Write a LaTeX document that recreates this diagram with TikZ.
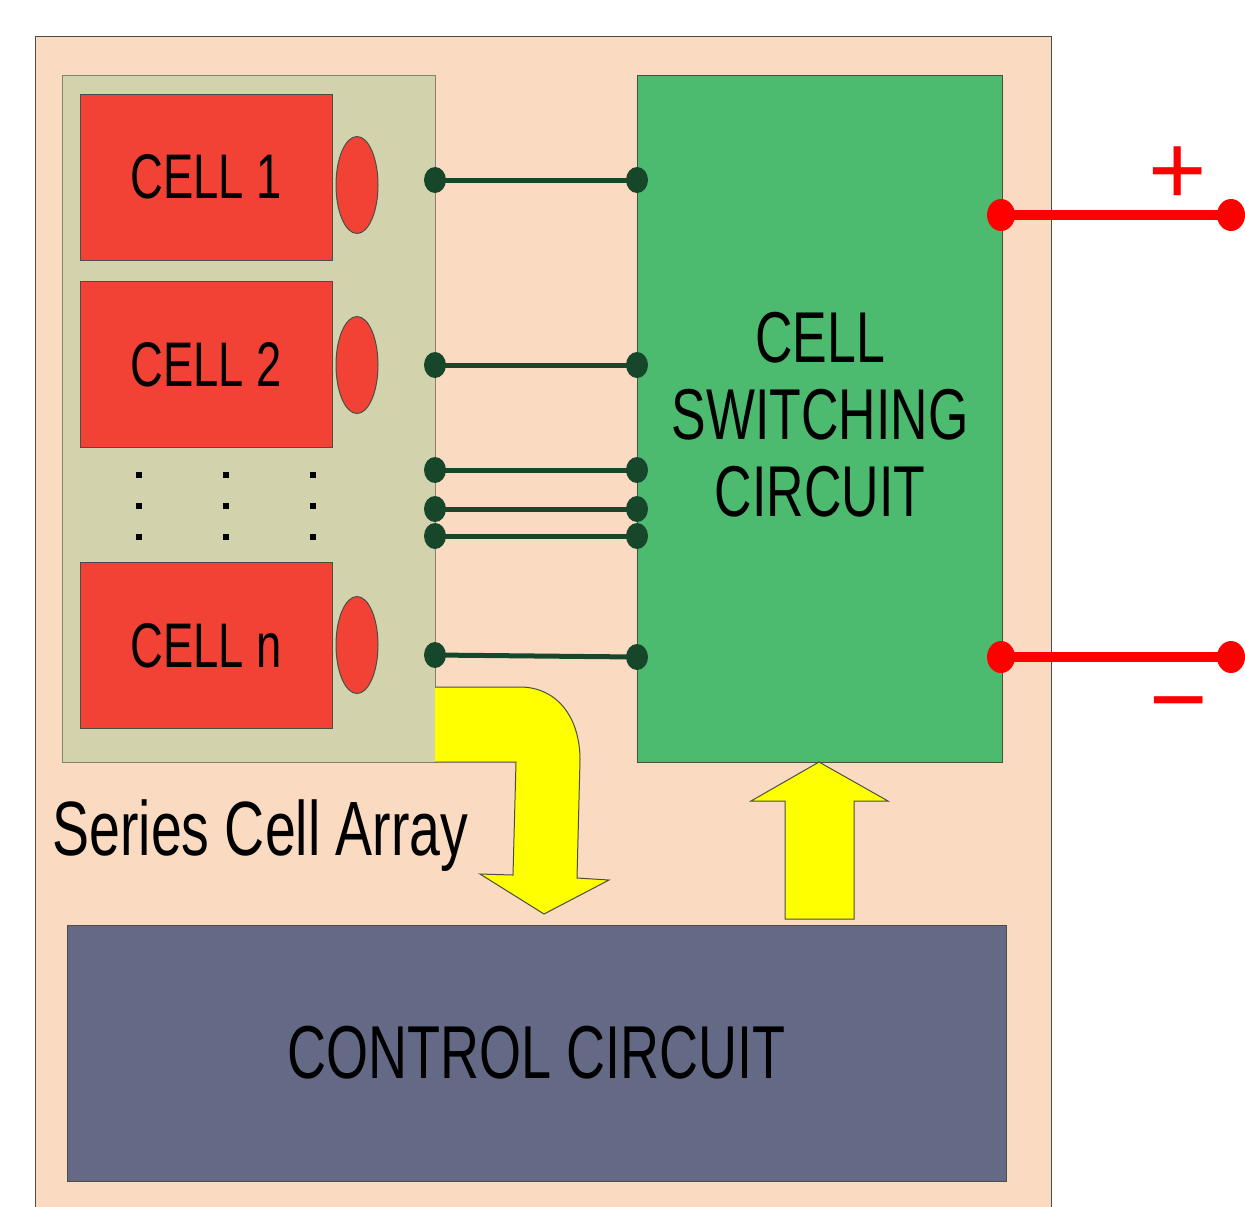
\documentclass[tikz,border=0pt]{standalone}
\usepackage{fontspec}
\setmainfont{Liberation Sans}[FakeStretch=0.72]
\newfontfamily\signfont{Liberation Sans}
\usetikzlibrary{positioning, shapes.geometric}
\definecolor{cpeach}{HTML}{FADAC1}
\definecolor{carray}{HTML}{D2D3AC}
\definecolor{ccell}{HTML}{F24236}
\definecolor{cswitch}{HTML}{4CBB70}
\definecolor{cctrl}{HTML}{646986}
\definecolor{cwire}{HTML}{16472A}
\definecolor{cyellow}{HTML}{FFFF00}
\definecolor{cedge}{HTML}{4A4F45}
\tikzset{
  every picture/.style={x=0.5pt, y=-0.5pt, line width=0.5pt},
  panel/.style={draw=cedge, fill=#1, inner sep=0pt, align=center},
  panel/.default=cpeach,
  cell/.style={panel=ccell, minimum width=126pt, minimum height=83pt, font=\fontsize{31.5}{36}\selectfont},
  pole/.style={ellipse, draw=cedge, fill=ccell, minimum width=21pt, minimum height=48.5pt, inner sep=0pt},
  tap/.style={ellipse, fill=cwire, minimum width=11pt, minimum height=13pt, inner sep=0pt},
  wire/.style={draw=cwire, line width=2.5pt},
  term/.style={ellipse, fill=red, minimum width=14pt, minimum height=16pt, inner sep=0pt},
  lead/.style={draw=red, line width=5pt},
  bigarrow/.style={draw=cedge, fill=cyellow, line join=miter},
  sign/.style={text=red, font=\signfont\fontsize{50}{50}\selectfont, inner sep=0pt},
}

\begin{document}
\begin{tikzpicture}
  \clip (0,0) rectangle (1245,1206);
  % housing
  \node[panel=cpeach, minimum width=508pt, minimum height=597pt] (frame) at (543,633) {};
  % series cell array
  \node[panel=carray, draw=cedge!60!carray, minimum width=186.5pt, minimum height=343.5pt] (array) at (248.5,418.5) {};
  \foreach \t/\y/\e [count=\i] in {1/177/185, 2/364.5/365, n/645.5/645} {
    \node[cell] (c\i) at (206,\y) {CELL \t};
    \node[pole] (e\i) at (357,\e) {};
  }
  \foreach \x in {139,226,313} {
    \foreach \y in {475,506,537} {
      \fill (\x-3,\y-3) rectangle (\x+3,\y+3);
    }
  }
  \node[anchor=base west, inner sep=0pt, font=\fontsize{38.5}{42}\selectfont] (label) at (52,855) {Series Cell Array};
  % switching circuit
  \node[panel=cswitch, minimum width=182.5pt, minimum height=343.5pt] (switch) at (819.5,418.5) {};
  \node[font=\fontsize{36}{38.5}\selectfont, align=center] (swtext) at (820,415) {CELL\\SWITCHING\\CIRCUIT};
  % taps between array and switch
  \foreach \y [count=\i] in {180,365,470,509,536,655} {
    \node[tap] (a\i) at (435,\y) {};
  }
  \foreach \y [count=\i] in {180,365,470,509,536,657} {
    \node[tap] (s\i) at (637,\y) {};
  }
  \foreach \i in {1,...,6} {
    \draw[wire] (a\i.center) -- (s\i.center);
  }
  % output terminals
  \node[term] (p1) at (1001,215) {};
  \node[term] (p2) at (1231,215) {};
  \node[term] (m1) at (1001,657) {};
  \node[term] (m2) at (1231,657) {};
  \draw[lead] (p1.center) -- (p2.center);
  \draw[lead] (m1.center) -- (m2.center);
  \node[sign] (plus) at (1178,176) {+};
  \node[sign] (minus) at (1179,715) {−};
  % control circuit
  \node[panel=cctrl, minimum width=469.5pt, minimum height=128pt, font=\fontsize{37.5}{40}\selectfont] (ctrl) at (536.5,1053) {CONTROL CIRCUIT};
  % data and control arrows
  \draw[bigarrow] (435,687) -- (520,687) .. controls (556,687) and (580,716) .. (580,760)
    -- (577,878) -- (609,880) -- (544,914) -- (480,874) -- (513,875) -- (516,762) -- (435,762);
  \draw[bigarrow] (785,919) -- (785,801) -- (751,801) -- (819,762) -- (888,801) -- (854,801) -- (854,919) -- cycle;
\end{tikzpicture}
\end{document}
